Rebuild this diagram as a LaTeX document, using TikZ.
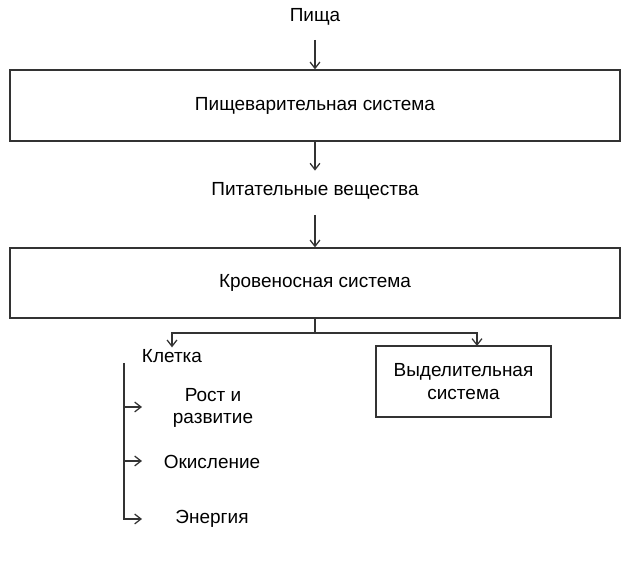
\documentclass[tikz,border=0pt]{standalone}
\usepackage{fontspec}
\setmainfont{Liberation Sans}
\usepackage{tikz}
\usetikzlibrary{positioning}
\usetikzlibrary{arrows.meta}

\begin{document}
\begin{tikzpicture}[
	x=0.025cm, y=-0.025cm,
	font=\fontsize{13.5}{16}\selectfont,
	line width=0.9pt
]
\tikzset{
    sysbox/.style = {rectangle, draw=black!80, align=center, inner sep=0pt},
    lbl/.style = {align=center, inner sep=1pt},
    arr/.style = {-{Straight Barb[length=4.5pt,width=7pt]}, draw=black!80},
    ln/.style = {draw=black!80}
}
\useasboundingbox (0,0) rectangle (639,569);
% top chain
\node[lbl] (food) at (315,17) {Пища};
\node[sysbox,minimum width=610*0.025cm,minimum height=71*0.025cm] (digest) at (315,105.5) {Пищеварительная система};
\node[lbl] (nutr) at (315,191) {Питательные вещества};
\node[sysbox,minimum width=610*0.025cm,minimum height=70*0.025cm] (blood) at (315,283) {Кровеносная система};
\coordinate (a1) at (315,40);
\coordinate (a2) at (315,215);
\draw[arr] (a1) -- (digest.north);
\draw[arr] (digest.south) -- ++(0,29);
\draw[arr] (a2) -- (blood.north);
% branches
\node[lbl] (cell) at (172,356) {Клетка};
\node[sysbox,minimum width=175*0.025cm,minimum height=71*0.025cm] (excr) at (463.5,381.5) {Выделительная\\система};
\coordinate (fork) at (315,333);
\coordinate (excrin) at (477,346);
\draw[ln] (blood.south) -- (fork);
\draw[arr] (fork) -| (cell.north);
\draw[arr] (fork) -| (excrin);
% cell outputs
\node[lbl] (growth) at (213,408) {Рост и\\развитие};
\node[lbl] (oxid) at (212,462) {Окисление};
\node[lbl] (energy) at (212,519) {Энергия};
\coordinate (top) at (124,363);
\coordinate (b1) at (124,407);
\coordinate (b2) at (124,461);
\coordinate (b3) at (124,519);
\draw[ln] (top) -- (b2);
\draw[arr] (b1) -- ++(18,0);
\draw[arr] (b2) -- ++(18,0);
\draw[arr] (b2) -- (b3) -- ++(18,0);
\end{tikzpicture}
\end{document}
